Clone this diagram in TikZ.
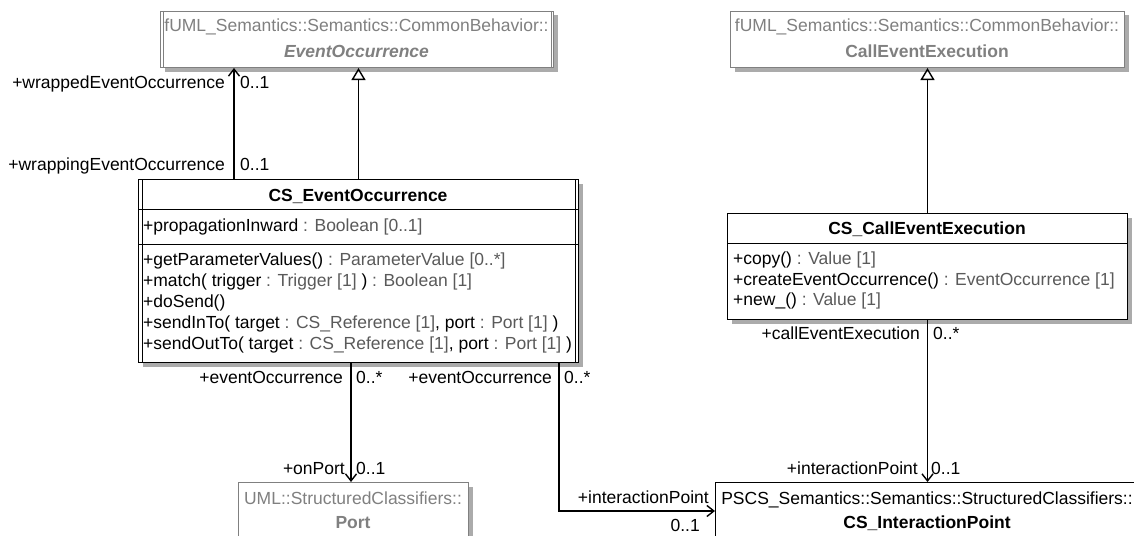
\documentclass[tikz,border=0pt]{standalone}
\usepackage{fontspec}
\setmainfont{Liberation Sans}
\usetikzlibrary{arrows.meta,shadows}
\definecolor{gtxt}{HTML}{808080}
\definecolor{ttxt}{HTML}{5A5A5A}
\definecolor{shd}{HTML}{ABABAB}
\newcommand{\ty}[1]{\textcolor{ttxt}{#1}}
\begin{document}
\begin{tikzpicture}[x=1pt,y=-1pt,
  font=\fontsize{17.5}{21}\selectfont,
  cls/.style={draw=black, line width=1pt, fill=white, inner sep=0pt, anchor=north west,
    drop shadow={shadow xshift=4pt, shadow yshift=-4pt, fill=shd, opacity=1}},
  gcls/.style={cls, draw=gtxt},
  txt/.style={inner sep=0pt, anchor=base west},
  rtxt/.style={inner sep=0pt, anchor=base east},
  ctxt/.style={inner sep=0pt, anchor=base},
  assoc/.style={line width=1.4pt, -{Straight Barb[length=7pt,width=11pt]}},
  gen/.style={line width=1.4pt, -{Triangle[open,length=12pt,width=14pt]}},
]
\path[use as bounding box, clip] (0,0) rectangle (1134,535);

% ---------- class boxes ----------
\node[gcls, minimum width=393pt, minimum height=56pt] (eo) at (160,11) {};
\node[gcls, minimum width=394pt, minimum height=56pt] (cee) at (730,11) {};
\node[cls, minimum width=440pt, minimum height=183pt] (cseo) at (138,179) {};
\node[cls, minimum width=400pt, minimum height=106pt] (csce) at (727,213) {};
\node[gcls, minimum width=230pt, minimum height=80pt] (port) at (238,482) {};
\node[cls, minimum width=424pt, minimum height=80pt] (ip) at (715,482) {};

% double borders (active classes)
\draw[gtxt, line width=1pt] ([xshift=3pt]eo.north west) -- ([xshift=3pt]eo.south west);
\draw[gtxt, line width=1pt] ([xshift=-3pt]eo.north east) -- ([xshift=-3pt]eo.south east);
\draw[line width=1pt] ([xshift=4pt]cseo.north west) -- ([xshift=4pt]cseo.south west);
\draw[line width=1pt] ([xshift=-4pt]cseo.north east) -- ([xshift=-4pt]cseo.south east);

% compartments
\draw[line width=1pt] ([yshift=-30pt]cseo.north west) -- ([yshift=-30pt]cseo.north east);
\draw[line width=1pt] ([yshift=-65pt]cseo.north west) -- ([yshift=-65pt]cseo.north east);
\draw[line width=1pt] ([yshift=-30pt]csce.north west) -- ([yshift=-30pt]csce.north east);

% ---------- texts in boxes ----------
\node[ctxt, text=gtxt] (eo1) at (356.5,32) {fUML\_Semantics::Semantics::CommonBehavior::};
\node[ctxt, text=gtxt] (eo2) at (356.5,58) {\textbf{\textit{EventOccurrence}}};
\node[ctxt, text=gtxt] (cee1) at (927,32) {fUML\_Semantics::Semantics::CommonBehavior::};
\node[ctxt, text=gtxt] (cee2) at (927,58) {\textbf{CallEventExecution}};

\node[ctxt] (cseot) at (358,201) {\textbf{CS\_EventOccurrence}};
\node[txt] (cseoa) at (143,231) {+propagationInward \ty{: Boolean [0..1]}};
\node[txt] (cseo1) at (143,265) {+getParameterValues() \ty{: ParameterValue [0..*]}};
\node[txt] (cseo2) at (143,286) {+match( trigger \ty{: Trigger [1]} ) \ty{: Boolean [1]}};
\node[txt] (cseo3) at (143,307) {+doSend()};
\node[txt] (cseo4) at (143,328) {+sendInTo( target \ty{: CS\_Reference [1]}, port \ty{: Port [1]} )};
\node[txt] (cseo5) at (143,349) {+sendOutTo( target \ty{: CS\_Reference [1]}, port \ty{: Port [1]} )};

\node[ctxt] (cscet) at (927,234) {\textbf{CS\_CallEventExecution}};
\node[txt] (csce1) at (733,264) {+copy() \ty{: Value [1]}};
\node[txt] (csce2) at (733,285) {+createEventOccurrence() \ty{: EventOccurrence [1]}};
\node[txt] (csce3) at (733,305) {+new\_() \ty{: Value [1]}};

\node[ctxt, text=gtxt] (port1) at (353,504) {UML::StructuredClassifiers::};
\node[ctxt, text=gtxt] (port2) at (353,528) {\textbf{Port}};
\node[ctxt] (ip1) at (927,504) {PSCS\_Semantics::Semantics::StructuredClassifiers::};
\node[ctxt] (ip2) at (927,528) {\textbf{CS\_InteractionPoint}};

% ---------- connectors ----------
\coordinate (wx) at (234,0);
\coordinate (px) at (351,0);
\coordinate (ix) at (559,0);
\coordinate (iy) at (0,511);

\draw[gen] (cseo.north) -- (cseo.north |- eo.south);
\draw[gen] (csce.north) -- (csce.north |- cee.south);
\draw[assoc] (cseo.north -| wx) -- (eo.south -| wx);
\draw[assoc] (cseo.south -| px) -- (port.north -| px);
\draw[assoc] (cseo.south -| ix) |- (ip.west |- iy);
\draw[assoc] (csce.south) -- (csce.south |- ip.north);

% ---------- role names and multiplicities ----------
\node[rtxt] (r1) at (225,88) {+wrappedEventOccurrence};
\node[txt] (m1) at (240,88) {0..1};
\node[rtxt] (r2) at (225,170) {+wrappingEventOccurrence};
\node[txt] (m2) at (240,170) {0..1};
\node[rtxt] (r3) at (343,383) {+eventOccurrence};
\node[txt] (m3) at (356,383) {0..*};
\node[rtxt] (r4) at (552,383) {+eventOccurrence};
\node[txt] (m4) at (564,383) {0..*};
\node[rtxt] (r5) at (345,474) {+onPort};
\node[txt] (m5) at (356,474) {0..1};
\node[rtxt] (r6) at (709,503) {+interactionPoint};
\node[rtxt] (m6) at (700,531) {0..1};
\node[rtxt] (r7) at (920,339) {+callEventExecution};
\node[txt] (m7) at (933,339) {0..*};
\node[rtxt] (r8) at (918,474) {+interactionPoint};
\node[txt] (m8) at (931,474) {0..1};
\end{tikzpicture}
\end{document}
